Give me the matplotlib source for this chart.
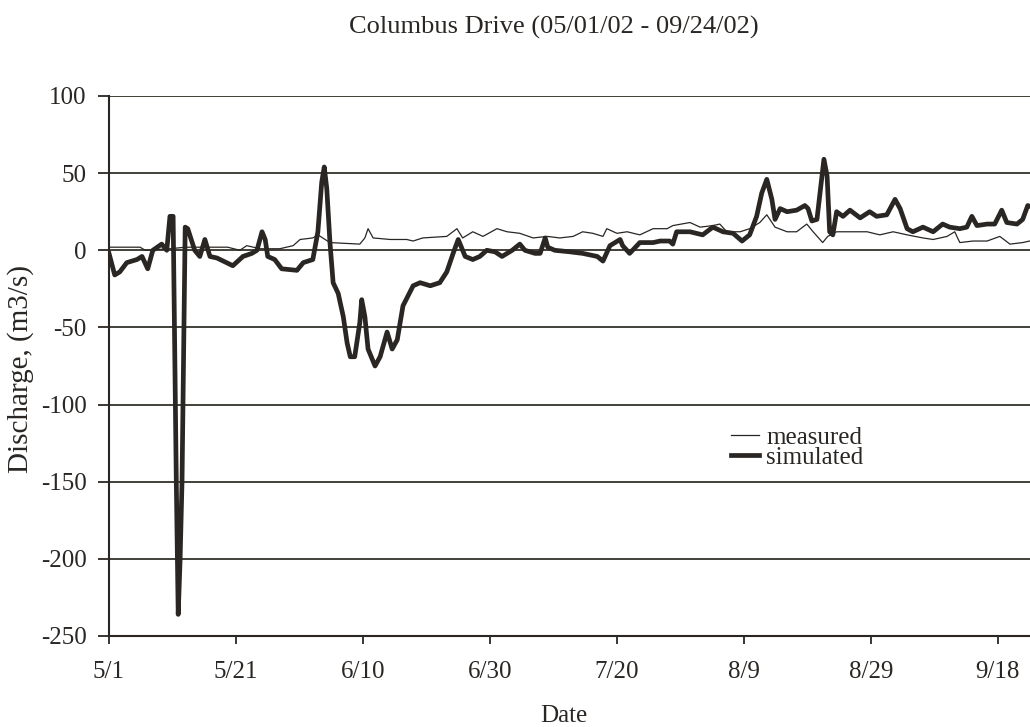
import numpy as np
import matplotlib
matplotlib.use("Agg")
import matplotlib.pyplot as plt

# Columbus Drive discharge, days counted from 5/1/2002
sim_day = [0.0, 0.9, 1.7, 2.8, 4.4, 5.2, 6.1, 6.9, 8.3, 9.1, 9.6, 10.1, 10.6, 10.9,
           11.2, 11.5, 12.0, 12.4, 13.5, 14.3, 15.1, 15.9, 17.0, 19.5, 21.1, 22.5,
           23.3, 24.1, 24.6, 25.0, 26.1, 27.2, 29.6, 30.6, 32.1, 32.9, 33.5, 33.9,
           34.3, 34.8, 35.3, 36.1, 36.9, 37.5, 38.0, 38.7, 39.5, 39.8, 40.3, 40.8,
           41.9, 42.7, 43.8, 44.6, 45.4, 46.3, 47.9, 49.0, 50.6, 52.1, 53.2, 54.2,
           55.0, 56.1, 57.3, 58.4, 59.5, 60.8, 61.9, 63.5, 64.7, 65.5, 67.1, 67.9,
           68.7, 69.1, 70.2, 72.6, 74.6, 76.9, 77.8, 78.9, 80.5, 80.9, 82.0, 83.6,
           85.7, 86.8, 88.3, 88.8, 89.4, 91.5, 93.5, 95.1, 96.7, 98.3, 99.7, 100.9,
           102.0, 102.8, 103.6, 104.4, 104.9, 105.7, 106.8, 108.3, 109.6, 110.1,
           110.7, 111.5, 112.3, 112.6, 113.1, 113.5, 114.0, 114.6, 115.6, 116.7,
           118.3, 119.8, 120.9, 122.5, 123.8, 124.6, 125.7, 126.6, 128.2, 129.8,
           131.3, 132.4, 134.0, 135.1, 135.9, 136.7, 138.3, 139.5, 140.6, 141.4,
           143.0, 143.9, 144.7, 146.0]
simulated = [-2, -16, -14, -8, -6, -4, -12, 0, 4, 0, 22, 22, -150, -236,
             -200, -150, 15, 14, 0, -4, 7, -4, -5, -10, -4, -2,
             0, 12, 7, -4, -6, -12, -13, -8, -6, 12, 44, 54,
             40, 5, -21, -28, -43, -60, -69, -69, -47, -32, -43, -64,
             -75, -69, -53, -64, -58, -36, -23, -21, -23, -21, -14, -2,
             7, -4, -6, -4, 0, -1, -4, 0, 4, 0, -2, -2,
             8, 2, 0, -1, -2, -4, -7, 3, 7, 3, -2, 5,
             5, 6, 6, 4, 12, 12, 10, 15, 12, 11, 6, 10,
             22, 37, 46, 33, 20, 27, 25, 26, 29, 27,
             19, 20, 48, 59, 48, 12, 10, 25, 22, 26,
             21, 25, 22, 23, 33, 27, 14, 12, 15, 12,
             17, 15, 14, 15, 22, 16, 17, 17, 26, 18,
             17, 20, 29, 27]

meas_day = [0.0, 4.9, 5.7, 9.6, 12.0, 18.7, 20.6, 21.7, 23.8, 26.9, 29.0, 30.1,
            32.1, 32.9, 34.8, 39.5, 40.3, 40.8, 41.6, 44.3, 46.9, 47.9, 49.4,
            53.2, 54.8, 55.7, 57.3, 58.9, 61.1, 62.7, 64.7, 66.8, 69.0, 71.0,
            73.1, 74.6, 76.2, 77.8, 78.4, 80.0, 81.6, 83.6, 85.7, 87.9, 88.8,
            91.5, 93.1, 95.1, 96.2, 97.3, 99.4, 100.9, 102.5, 103.6, 104.9,
            106.8, 108.3, 109.9, 110.9, 112.4, 113.2, 114.6, 119.4, 121.4,
            123.5, 125.7, 128.2, 129.8, 132.0, 133.2, 134.0, 136.1, 138.3,
            140.3, 141.9, 143.9, 145.0, 146.0]
measured = [2, 2, 0, 1, 2, 2, 0, 3, 1, 1, 3, 7,
            8, 10, 5, 4, 8, 14, 8, 7, 7, 6, 8,
            9, 14, 8, 12, 9, 14, 12, 11, 8, 9, 8,
            9, 12, 11, 9, 14, 11, 12, 10, 14, 14, 16,
            18, 15, 16, 17, 12, 12, 14, 18, 23, 15,
            12, 12, 17, 12, 5, 9, 12, 12, 10,
            12, 10, 8, 7, 9, 12, 5, 6, 6,
            9, 4, 5, 6, 6]

tick_days = [0, 20, 40, 60, 80, 100, 120, 140]
tick_labels = ["5/1", "5/21", "6/10", "6/30", "7/20", "8/9", "8/29", "9/18"]
y_ticks = [100, 50, 0, -50, -100, -150, -200, -250]

plt.rcParams["font.family"] = ["Liberation Serif", "DejaVu Serif"]
plt.rcParams["axes.unicode_minus"] = False
ink = "#2a2623"

fig = plt.figure(figsize=(10.30, 7.27), dpi=100)
ax = fig.add_axes([109 / 1030, 1 - 636 / 727, (1036 - 109) / 1030, (636 - 96) / 727])

for y in y_ticks:
    ax.axhline(y, color="#33332b", lw=1.3, zorder=1)

ax.plot(meas_day, measured, color=ink, lw=0.9, label="measured", zorder=3)
ax.plot(sim_day, simulated, color=ink, lw=3.4, label="simulated", zorder=2,
        solid_joinstyle="round")

ax.set_xlim(0, 146)
ax.set_ylim(-250, 100)
ax.set_xticks(tick_days)
ax.set_xticklabels(tick_labels)
ax.set_yticks(y_ticks)
ax.tick_params(axis="y", length=8, width=1.3, pad=8, labelsize=18, color=ink, labelcolor=ink)
ax.tick_params(axis="x", length=6, width=1.3, pad=12, labelsize=18, color=ink, labelcolor=ink)

for side in ["top", "right"]:
    ax.spines[side].set_visible(False)
for side in ["left", "bottom"]:
    ax.spines[side].set_color(ink)
    ax.spines[side].set_linewidth(1.5)

fig.text(554 / 1030, 1 - 27 / 727, "Columbus Drive (05/01/02 - 09/24/02)",
         ha="center", va="center", fontsize=19, color=ink)
fig.text(564 / 1030, 1 - 716 / 727, "Date", ha="center", va="center",
         fontsize=18, color=ink)
fig.text(21 / 1030, 1 - 369 / 727, "Discharge, (m3/s)", ha="center", va="center",
         rotation=90, fontsize=21, color=ink)

leg = ax.legend(loc="upper left", bbox_to_anchor=(731 / 1030, 1 - 426 / 727),
                bbox_transform=fig.transFigure, frameon=False, fontsize=18,
                handlelength=1.1, handletextpad=0.3, labelspacing=-0.08,
                borderpad=0, borderaxespad=0)
for t in leg.get_texts():
    t.set_color(ink)

fig.savefig("out.png", dpi=100)
